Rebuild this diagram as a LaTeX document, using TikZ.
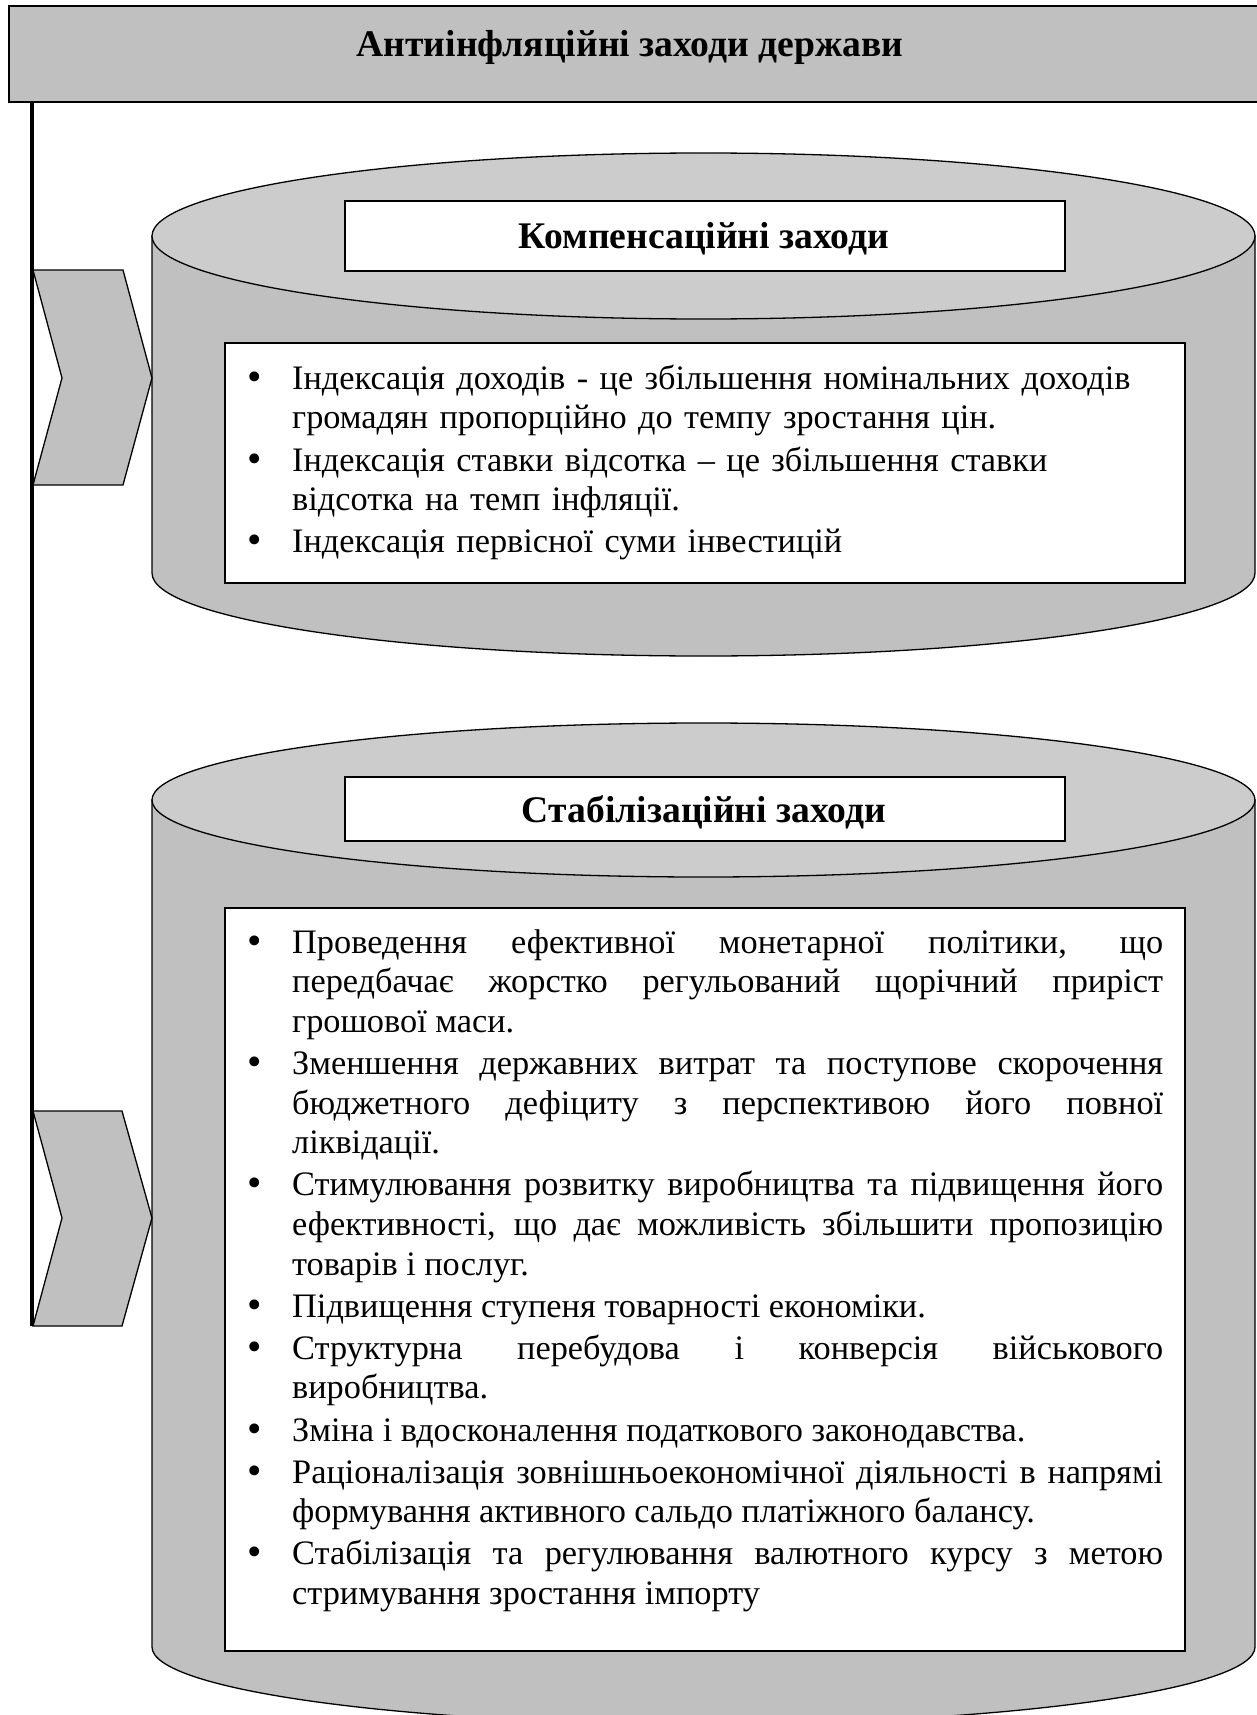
\documentclass[tikz,border=0pt]{standalone}
\usepackage{fontspec}
\setmainfont{Liberation Serif}
\usepackage{graphicx}
\definecolor{boxgray}{RGB}{192,192,192}
\definecolor{topgray}{RGB}{204,204,204}
\newcommand\itm{\par\noindent\llap{\makebox[45pt][l]{\raisebox{-1pt}{\scalebox{1.2}{\textbullet}}}}}
\newcommand\bodysetup{\setlength\leftskip{45pt}\setlength\parskip{2.5pt}\hyphenpenalty=10000 \exhyphenpenalty=10000 \tolerance=9999 \hbadness=10000}
\tikzset{
  graybox/.style={fill=boxgray, draw=black, line width=2.2pt, inner sep=0},
  titlebox/.style={fill=white, draw=black, line width=1.8pt, inner sep=0},
  cylbody/.style={fill=boxgray, draw=black, line width=1.3pt},
  cyltop/.style={fill=topgray, draw=black, line width=1.3pt},
  chevron/.style={fill=boxgray, draw=black, line width=1.3pt},
  spine/.style={draw=black, line width=4.5pt},
  titletext/.style={font=\fontsize{37.6}{42}\selectfont\bfseries, inner sep=0, anchor=base},
  bodytext/.style={inner sep=0, anchor=north west, text width=916pt, font=\fontsize{34.3}{39.6}\selectfont},
}
\begin{document}
\begin{tikzpicture}[x=1pt,y=-1pt]
\useasboundingbox (0,0) rectangle (1256,1715);
% top box
\node[graybox, anchor=north west, minimum width=1280pt, minimum height=96pt] (top) at (8,5) {};
\node[titletext] (toptxt) at (630,57) {Антиінфляційні заходи держави};
% cylinder 1
\draw[cylbody] (152,236) -- (152,573) arc[start angle=180, end angle=360, x radius=551.5pt, y radius=83pt] -- (1255,236) -- cycle;
\draw[cyltop] (703.5,236) ellipse[x radius=551.5pt, y radius=83pt];
\node[titlebox, anchor=north west, minimum width=720pt, minimum height=70pt] (t1) at (344,200) {};
\node[titletext] (t1txt) at (704,248) {Компенсаційні заходи};
\node[titlebox, anchor=north west, minimum width=960pt, minimum height=240pt] (b1) at (224,342) {};
\node[bodytext, align=left] (b1txt) at (247,347) {\bodysetup
\itm\rule{0pt}{32pt}Індексація доходів - це збільшення номінальних доходів\\ громадян пропорційно до темпу зростання цін.
\itm Індексація ставки відсотка – це збільшення ставки\\ відсотка на темп інфляції.
\itm Індексація первісної суми інвестицій\par};
% cylinder 2
\draw[cylbody] (152,800) -- (152,1647) arc[start angle=180, end angle=360, x radius=551.5pt, y radius=77pt] -- (1255,800) -- cycle;
\draw[cyltop] (703.5,800) ellipse[x radius=551.5pt, y radius=77pt];
\node[titlebox, anchor=north west, minimum width=720pt, minimum height=64pt] (t2) at (344,776) {};
\node[titletext] (t2txt) at (704,822) {Стабілізаційні заходи};
\node[titlebox, anchor=north west, minimum width=960pt, minimum height=743pt] (b2) at (224,907) {};
\node[bodytext, align=justify] (b2txt) at (247,911) {\bodysetup
\itm\rule{0pt}{32pt}Проведення ефективної монетарної політики, що\linebreak{} передбачає жорстко регульований щорічний приріст\linebreak{} грошової маси.
\itm Зменшення державних витрат та поступове скорочення\linebreak{} бюджетного дефіциту з перспективою його повної\linebreak{} ліквідації.
\itm Стимулювання розвитку виробництва та підвищення його\linebreak{} ефективності, що дає можливість збільшити пропозицію\linebreak{} товарів і послуг.
\itm Підвищення ступеня товарності економіки.
\itm Структурна перебудова і конверсія військового\linebreak{} виробництва.
\itm Зміна і вдосконалення податкового законодавства.
\itm Раціоналізація зовнішньоекономічної діяльності в напрямі\linebreak{} формування активного сальдо платіжного балансу.
\itm Стабілізація та регулювання валютного курсу з метою\linebreak{} стримування зростання імпорту\par};
% chevrons
\draw[chevron] (33,270) -- (123,270) -- (152,378) -- (123,485) -- (33,485) -- (62,378) -- cycle;
\draw[chevron] (33,1111) -- (122,1111) -- (152,1218) -- (122,1326) -- (33,1326) -- (62,1218) -- cycle;
% spine
\coordinate (vtop) at (32,101);
\coordinate (vbot) at (32,1326);
\draw[spine] (vtop) -- (vbot);
\end{tikzpicture}
\end{document}
